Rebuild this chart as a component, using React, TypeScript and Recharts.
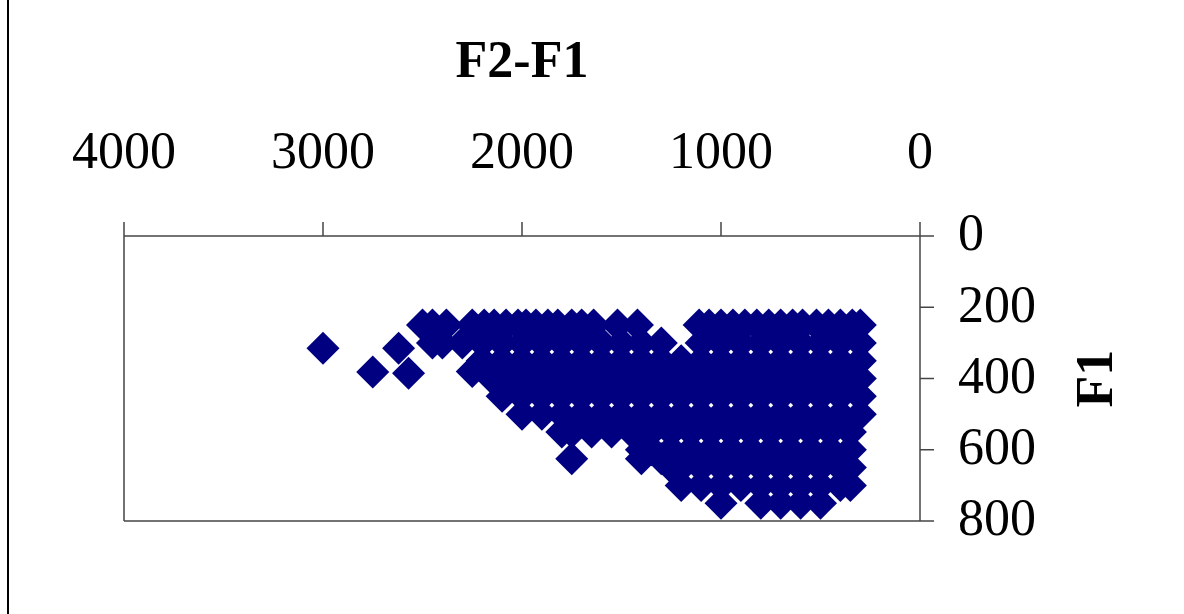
import { ScatterChart, Scatter, XAxis, YAxis, ReferenceLine } from 'recharts';

const row250 = [2500, 2450, 2380, 2250, 2190, 2140, 2080, 2020, 1980, 1930, 1870, 1820, 1750, 1700, 1640, 1520, 1420, 1110, 1060, 1000, 940, 880, 820, 760, 700, 640, 590, 520, 460, 400, 340, 300];
const row300 = [2450, 2400, 2300, 2200, 2100, 2000, 1900, 1800, 1700, 1600, 1500, 1400, 1300, 1100, 1000, 900, 800, 700, 600, 500, 400, 300];
const row350 = [2200, 2100, 2000, 1900, 1800, 1700, 1600, 1500, 1400, 1300, 1200, 1100, 1000, 900, 800, 700, 600, 500, 400, 300];
const row400 = [2150, 2050, 1950, 1850, 1750, 1650, 1550, 1450, 1350, 1250, 1150, 1050, 950, 850, 750, 650, 550, 450, 350, 300];
const row450 = [2100, 2000, 1900, 1800, 1700, 1600, 1500, 1400, 1300, 1200, 1100, 1000, 900, 800, 700, 600, 500, 400, 300];
const row500 = [2000, 1900, 1800, 1700, 1600, 1500, 1400, 1300, 1200, 1100, 1000, 900, 800, 700, 600, 500, 400, 300];
const row550 = [1800, 1750, 1650, 1550, 1450, 1350, 1250, 1150, 1050, 950, 850, 750, 650, 550, 450, 350];
const row600 = [1400, 1350, 1250, 1150, 1050, 950, 850, 750, 650, 550, 450, 350];
const row625 = [1750, 1400, 1300];
const row650 = [1250, 1200, 1100, 1000, 900, 800, 700, 600, 500, 400, 350];
const row700 = [1200, 1100, 1000, 900, 800, 700, 600, 500, 400, 350];
const row750 = [1000, 800, 700, 600, 500];

// scattered points left of the main cloud
const looseF2F1 = [3000, 2620, 2750, 2570, 2250];
const looseF1 = [315, 315, 382, 385, 380];

const xTicks = [0, 1000, 2000, 3000, 4000];
const yTicks = [0, 200, 400, 600, 800];

const rows: [number, number[]][] = [
  [250, row250], [300, row300], [350, row350], [400, row400], [450, row450],
  [500, row500], [550, row550], [600, row600], [625, row625], [650, row650],
  [700, row700], [750, row750],
];

const points = [
  ...rows.flatMap(([f1, vals]) => vals.map((v) => ({ x: v, y: f1 }))),
  ...looseF2F1.map((v, i) => ({ x: v, y: looseF1[i] })),
];

const FONT = '"Liberation Serif", "Times New Roman", serif';
const AXIS = '#444';

const Diamond = (props: any) => {
  const { cx, cy } = props;
  const r = 16.5;
  return (
    <polygon
      points={`${cx},${cy - r} ${cx + r},${cy} ${cx},${cy + r} ${cx - r},${cy}`}
      fill="#000080"
    />
  );
};

export default function App() {
  return (
    <div style={{ position: 'absolute', left: 0, top: 0, width: 1184, height: 614, background: '#fff' }}>
      <div style={{ position: 'absolute', left: 7, top: 0, width: 2, height: 614, background: '#000' }} />
      <ScatterChart
        width={1184}
        height={614}
        margin={{ top: 176, right: 114, bottom: 93, left: 124 }}
      >
        <XAxis
          type="number"
          dataKey="x"
          orientation="top"
          reversed
          domain={[0, 4000]}
          ticks={xTicks}
          interval={0}
          height={60}
          tickSize={14}
          tickMargin={54}
          axisLine={{ stroke: AXIS, strokeWidth: 1.5 }}
          tickLine={{ stroke: AXIS, strokeWidth: 1.5 }}
          tick={{ fontSize: 52, fill: '#000', fontFamily: FONT }}
          label={{
            value: 'F2-F1',
            position: 'top',
            offset: 99,
            fontSize: 52,
            fontWeight: 'bold',
            fill: '#000',
            fontFamily: FONT,
          }}
        />
        <YAxis
          type="number"
          dataKey="y"
          orientation="right"
          reversed
          domain={[0, 800]}
          ticks={yTicks}
          interval={0}
          width={150}
          tickSize={14}
          tickMargin={24}
          axisLine={{ stroke: AXIS, strokeWidth: 1.5 }}
          tickLine={{ stroke: AXIS, strokeWidth: 1.5 }}
          tick={{ fontSize: 52, fill: '#000', fontFamily: FONT, dy: -4 }}
          label={{
            value: 'F1',
            position: 'center',
            angle: -90,
            dx: 99,
            fontSize: 52,
            fontWeight: 'bold',
            fill: '#000',
            fontFamily: FONT,
          }}
        />
        <ReferenceLine x={4000} stroke={AXIS} strokeWidth={1.5} />
        <ReferenceLine y={800} stroke={AXIS} strokeWidth={1.5} />
        <Scatter data={points} shape={Diamond} isAnimationActive={false} />
      </ScatterChart>
    </div>
  );
}
